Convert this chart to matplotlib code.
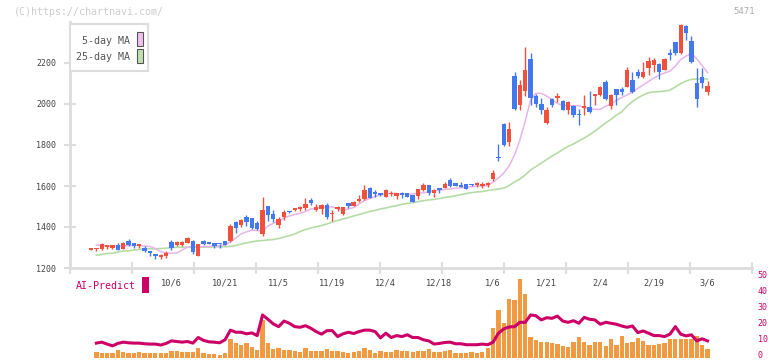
import matplotlib
matplotlib.use("Agg")
import matplotlib.pyplot as plt
import matplotlib.transforms as mtrans
from matplotlib.patches import Rectangle
import numpy as np

# ---------------- data ----------------
opens = [1290, 1291, 1293, 1302, 1300, 1312, 1293, 1332, 1322, 1309,
         1299, 1284, 1268, 1254, 1259, 1327, 1313, 1314, 1323, 1332,
         1259, 1333, 1327, 1323, 1317, 1333, 1333, 1422, 1410, 1450,
         1444, 1421, 1366, 1502, 1463, 1410, 1449, 1475, 1483, 1486,
         1491, 1532, 1483, 1486, 1507, 1463, 1486, 1463, 1518, 1504,
         1528, 1537, 1592, 1565, 1564, 1548, 1561, 1553, 1567, 1564,
         1556, 1553, 1580, 1605, 1564, 1589, 1589, 1629, 1613, 1605,
         1610, 1610, 1603, 1602, 1605, 1634, 1740, 1902, 1816, 2137,
         1995, 2065, 2220, 2041, 2000, 1909, 2024, 2029, 2017, 1971,
         1990, 1951, 1979, 1987, 2040, 2044, 2105, 1990, 2073, 2073,
         2085, 2117, 2156, 2134, 2177, 2190, 2193, 2166, 2246, 2300,
         2251, 2380, 2307, 2104, 2134, 2060]
closes = [1291, 1293, 1317, 1312, 1310, 1290, 1322, 1312, 1307, 1311,
          1284, 1275, 1260, 1265, 1275, 1296, 1325, 1328, 1346, 1280,
          1317, 1317, 1317, 1309, 1315, 1312, 1405, 1397, 1434, 1424,
          1395, 1389, 1483, 1459, 1437, 1439, 1475, 1471, 1493, 1499,
          1512, 1518, 1499, 1505, 1447, 1470, 1499, 1496, 1502, 1523,
          1538, 1580, 1543, 1562, 1555, 1580, 1564, 1564, 1558, 1545,
          1522, 1585, 1605, 1564, 1580, 1579, 1610, 1600, 1600, 1597,
          1585, 1603, 1613, 1604, 1613, 1662, 1736, 1800, 1878, 1976,
          2093, 2166, 2028, 2000, 1971, 1971, 1995, 2037, 1971, 2012,
          1946, 1945, 1990, 1962, 2046, 2085, 2024, 2044, 2044, 2060,
          2166, 2060, 2139, 2156, 2210, 2215, 2156, 2220, 2241, 2251,
          2385, 2344, 2207, 2023, 2100, 2090]
highs = [1292, 1300, 1322, 1314, 1312, 1320, 1327, 1342, 1322, 1312,
         1305, 1284, 1268, 1270, 1285, 1337, 1332, 1332, 1350, 1337,
         1317, 1337, 1327, 1323, 1317, 1333, 1415, 1427, 1439, 1458,
         1444, 1427, 1548, 1502, 1485, 1451, 1483, 1478, 1495, 1502,
         1540, 1540, 1512, 1512, 1515, 1483, 1502, 1496, 1518, 1526,
         1556, 1605, 1597, 1582, 1564, 1585, 1578, 1564, 1570, 1566,
         1556, 1585, 1613, 1607, 1583, 1589, 1620, 1638, 1613, 1620,
         1612, 1610, 1620, 1620, 1620, 1678, 1805, 1908, 1910, 2156,
         2117, 2280, 2250, 2051, 2027, 1985, 2029, 2056, 2020, 2017,
         1995, 1976, 2044, 2062, 2051, 2090, 2117, 2051, 2073, 2083,
         2180, 2156, 2173, 2205, 2227, 2222, 2202, 2225, 2270, 2300,
         2390, 2385, 2330, 2175, 2175, 2110]
lows = [1290, 1285, 1288, 1293, 1293, 1290, 1293, 1305, 1300, 1298,
        1280, 1259, 1244, 1244, 1248, 1290, 1305, 1305, 1320, 1270,
        1259, 1310, 1317, 1300, 1300, 1310, 1325, 1370, 1400, 1405,
        1390, 1385, 1356, 1430, 1425, 1397, 1434, 1468, 1480, 1480,
        1483, 1508, 1478, 1465, 1440, 1429, 1480, 1458, 1495, 1502,
        1522, 1532, 1540, 1548, 1550, 1545, 1550, 1535, 1540, 1545,
        1520, 1537, 1575, 1558, 1547, 1564, 1589, 1595, 1598, 1594,
        1583, 1600, 1595, 1592, 1597, 1625, 1723, 1795, 1795, 1971,
        1971, 2041, 1995, 1985, 1950, 1900, 1985, 2010, 1970, 1950,
        1936, 1898, 1946, 1955, 1995, 2040, 2020, 1978, 1995, 2044,
        2085, 2055, 2127, 2127, 2140, 2157, 2120, 2166, 2215, 2240,
        2244, 2310, 2200, 1985, 2080, 2043]

# moving averages, volume and AI-Predict start at the second session
ma5 = [1312, 1310, 1307, 1307, 1307, 1307, 1310, 1310, 1310, 1307,
       1305, 1295, 1280, 1273, 1272, 1273, 1288, 1302, 1304, 1304,
       1304, 1305, 1307, 1309, 1312, 1328, 1346, 1366, 1376, 1385,
       1383, 1380, 1405, 1418, 1429, 1444, 1454, 1461, 1467, 1476,
       1488, 1491, 1495, 1498, 1498, 1490, 1483, 1488, 1495, 1512,
       1529, 1539, 1549, 1556, 1562, 1564, 1563, 1561, 1560, 1561,
       1564, 1567, 1571, 1576, 1580, 1583, 1585, 1589, 1591, 1594,
       1597, 1600, 1600, 1602, 1619, 1639, 1663, 1698, 1751, 1824,
       1917, 2020, 2052, 2052, 2039, 2022, 2002, 1994, 1992, 1992,
       1992, 1983, 1976, 1974, 1974, 1990, 2000, 2017, 2032, 2044,
       2059, 2076, 2093, 2110, 2127, 2141, 2151, 2161, 2185, 2217,
       2234, 2246, 2220, 2188, 2153]
ma25 = [1262, 1266, 1271, 1272, 1278, 1283, 1283, 1288, 1290, 1293,
        1294, 1294, 1295, 1296, 1300, 1301, 1301, 1301, 1302, 1302,
        1302, 1302, 1303, 1303, 1304, 1305, 1310, 1317, 1322, 1328,
        1332, 1334, 1337, 1339, 1344, 1351, 1358, 1366, 1378, 1388,
        1395, 1401, 1407, 1415, 1424, 1432, 1439, 1446, 1454, 1461,
        1468, 1476, 1481, 1488, 1493, 1499, 1504, 1511, 1515, 1519,
        1524, 1528, 1532, 1535, 1539, 1544, 1548, 1552, 1558, 1563,
        1568, 1571, 1573, 1578, 1582, 1585, 1590, 1602, 1620, 1634,
        1654, 1678, 1695, 1712, 1729, 1746, 1761, 1778, 1793, 1805,
        1820, 1834, 1850, 1868, 1888, 1908, 1925, 1946, 1962, 1990,
        2012, 2030, 2044, 2055, 2059, 2060, 2063, 2068, 2083, 2100,
        2112, 2120, 2122, 2122, 2122]
volume = [3.9, 3.1, 3.1, 3.1, 5.0, 3.7, 3.1, 3.1, 3.7, 3.1,
          3.1, 3.1, 3.1, 3.1, 4.3, 4.3, 3.7, 3.7, 3.7, 6.2,
          3.1, 2.5, 2.5, 1.9, 3.1, 11.8, 9.3, 8.1, 9.3, 6.8,
          5.0, 23.6, 9.3, 5.6, 6.2, 5.0, 5.0, 4.3, 3.7, 6.2,
          4.3, 4.3, 4.3, 5.6, 4.3, 4.3, 3.7, 3.1, 3.7, 4.3,
          6.2, 5.0, 3.1, 4.6, 3.7, 3.7, 5.0, 4.3, 4.3, 3.7,
          4.3, 4.3, 5.6, 3.7, 3.7, 4.3, 5.0, 3.1, 3.1, 3.1,
          3.7, 3.1, 3.7, 6.2, 18.6, 29.8, 21.7, 36.6, 36.0, 49.6,
          39.7, 13.0, 11.2, 9.9, 9.9, 9.3, 8.7, 7.4, 6.8, 9.9,
          13.0, 9.9, 8.1, 9.9, 9.9, 7.4, 11.8, 8.1, 13.6, 9.3,
          9.9, 12.4, 10.5, 8.1, 8.1, 8.7, 9.3, 11.8, 11.8, 11.8,
          11.8, 11.8, 13.6, 8.1, 5.6]
ai_predict = [9.3, 9.9, 8.7, 7.6, 9.1, 9.9, 9.5, 9.3, 9.3, 8.9,
              8.7, 8.7, 8.1, 9.1, 10.7, 10.3, 9.9, 10.3, 9.3, 12.8,
              11.0, 10.1, 9.9, 9.5, 11.4, 17.4, 16.1, 16.1, 15.1, 15.7,
              14.0, 26.9, 24.2, 21.3, 19.6, 23.1, 21.7, 19.6, 19.2, 20.2,
              18.6, 16.5, 14.9, 17.1, 17.1, 13.4, 15.1, 16.1, 15.3, 16.5,
              17.4, 17.4, 16.5, 12.6, 15.5, 12.8, 14.0, 13.4, 14.5, 12.8,
              12.8, 11.4, 10.7, 8.7, 9.1, 9.7, 9.9, 8.9, 8.9, 8.3,
              8.3, 8.3, 8.7, 8.3, 9.9, 15.5, 18.2, 19.4, 19.6, 22.3,
              22.3, 26.9, 26.4, 23.8, 25.2, 24.8, 26.2, 23.1, 22.3, 23.3,
              21.7, 25.4, 24.2, 23.8, 21.1, 22.3, 21.7, 21.1, 20.0, 19.2,
              20.0, 15.9, 16.9, 15.5, 14.0, 14.0, 13.4, 14.9, 19.6, 14.9,
              13.8, 14.5, 10.7, 12.0, 10.7]

date_labels = ["10/6", "10/21", "11/5", "11/19", "12/4", "12/18",
               "1/6", "1/21", "2/4", "2/19", "3/6"]
date_label_idx = [15, 25, 35, 45, 55, 65, 75, 85, 95, 105, 115]
price_ticks = [1200, 1400, 1600, 1800, 2000, 2200]
ai_ticks = [0, 10, 20, 30, 40, 50]

# ---------------- style ----------------
W, H = 772, 361
UP = "#f0503c"
DOWN = "#4478ee"
MA5_C = "#e8b4ea"
MA25_C = "#b6dca6"
AI_C = "#cc0066"
VOL_C = "#f29a42"
GRID_C = "#dddddd"
MONO = "DejaVu Sans Mono"

fig = plt.figure(figsize=(W / 100, H / 100), dpi=100)
fig.patch.set_facecolor("white")

ax = fig.add_axes([70 / W, (H - 268) / H, (752 - 70) / W, (268 - 22) / H])
axv = fig.add_axes([70 / W, (H - 358) / H, (752 - 70) / W, (358 - 278) / H])

n = len(opens)
x = np.arange(n)
x1 = np.arange(1, n)
xlim = (-3.92, 123.3)

o = np.array(opens, float)
c = np.array(closes, float)
hi = np.array(highs, float)
lo = np.array(lows, float)
up = c >= o
cols = np.where(up, UP, DOWN)
body_bot = np.minimum(o, c)
body_h = np.maximum(np.abs(c - o), 7)

ax.plot(x1, ma25, color=MA25_C, lw=1.2, zorder=1)
ax.plot(x1, ma5, color=MA5_C, lw=1.1, zorder=1)
ax.vlines(x, lo, hi, colors=cols, lw=1.0, zorder=2)
ax.bar(x, body_h, bottom=body_bot, width=0.82, color=cols, zorder=3, linewidth=0)

ax.set_xlim(*xlim)
ax.set_ylim(1200, 2400)
for s in ("top", "right"):
    ax.spines[s].set_visible(False)
for s in ("left", "bottom"):
    ax.spines[s].set_color(GRID_C)
    ax.spines[s].set_linewidth(2)
ax.set_yticks(price_ticks)
ax.set_yticklabels([str(t) for t in price_ticks])
ax.tick_params(axis="y", direction="inout", length=8, width=1.5, color=GRID_C,
               labelsize=6, labelcolor="#444444", pad=6)
for lab in ax.get_yticklabels():
    lab.set_family(MONO)
ax.set_xticks(np.linspace(xlim[0], xlim[1], 12))
ax.set_xticklabels([])
ax.tick_params(axis="x", direction="inout", length=8, width=1.5, color=GRID_C)

trans = mtrans.blended_transform_factory(ax.transData, ax.transAxes)
for lab, i in zip(date_labels, date_label_idx):
    ax.text(i, -(283 - 268) / 246, lab, transform=trans, ha="center", va="center",
            fontsize=6.2, family=MONO, color="#444444")

# legend box
fig.add_artist(Rectangle((70 / W, (H - 71) / H), 78 / W, 47 / H, transform=fig.transFigure,
                         facecolor="white", edgecolor=GRID_C, lw=1.5, zorder=5))
fig.text(130 / W, (H - 41) / H, "5-day MA", ha="right", va="center", fontsize=7.2,
         family=MONO, color="#555555", zorder=6)
fig.text(130 / W, (H - 57) / H, "25-day MA", ha="right", va="center", fontsize=7.2,
         family=MONO, color="#555555", zorder=6)
fig.add_artist(Rectangle((137 / W, (H - 46) / H), 5.5 / W, 14 / H, transform=fig.transFigure,
                         facecolor="#f0c0f0", edgecolor="#555555", lw=0.8, zorder=6))
fig.add_artist(Rectangle((137 / W, (H - 63) / H), 5.5 / W, 14 / H, transform=fig.transFigure,
                         facecolor="#c0e0b0", edgecolor="#555555", lw=0.8, zorder=6))

fig.text(14 / W, (H - 12) / H, "(C)https://chartnavi.com/", ha="left", va="center",
         fontsize=7.2, family=MONO, color="#cccccc")
fig.text(755 / W, (H - 12) / H, "5471", ha="right", va="center",
         fontsize=6.5, family=MONO, color="#aaaaaa")

# ---------------- volume / AI panel ----------------
axv.bar(x1, volume, width=0.8, color=VOL_C, linewidth=0, zorder=1)
axv.plot(x1, ai_predict, color=AI_C, lw=2.2, zorder=2)
axv.set_xlim(*xlim)
axv.set_ylim(0, 50)
for s in axv.spines.values():
    s.set_visible(False)
axv.set_xticks([])
axv.yaxis.tick_right()
axv.set_yticks(ai_ticks)
axv.set_yticklabels([str(t) for t in ai_ticks])
axv.tick_params(axis="y", length=0, labelsize=6, labelcolor=AI_C, pad=4)
shift_up = mtrans.ScaledTranslation(0, 2.5 / 72, fig.dpi_scale_trans)
for lab in axv.get_yticklabels():
    lab.set_family(MONO)
    lab.set_transform(lab.get_transform() + shift_up)
axv.patch.set_alpha(0)

fig.text(76 / W, (H - 286) / H, "AI-Predict", ha="left", va="center", fontsize=7.2,
         family=MONO, color=AI_C)
fig.add_artist(Rectangle((142 / W, (H - 293) / H), 6.5 / W, 16 / H, transform=fig.transFigure,
                         facecolor=AI_C, edgecolor="none"))

fig.savefig("out.png", dpi=100, facecolor="white")
